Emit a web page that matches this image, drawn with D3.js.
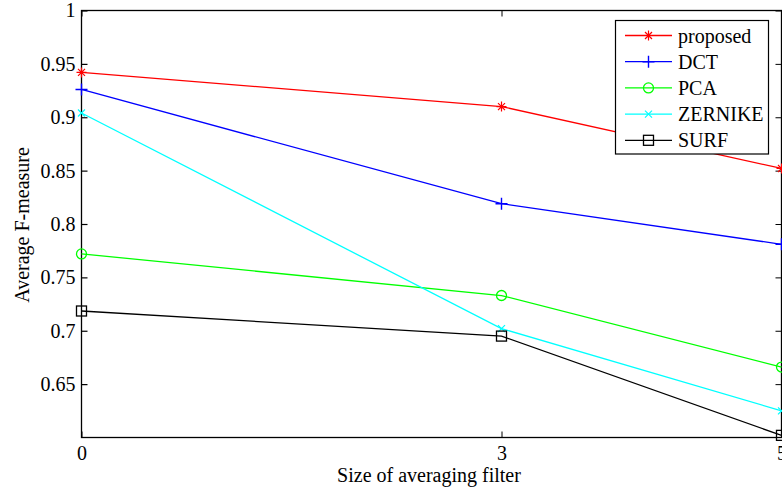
<!DOCTYPE html>
<html><head><meta charset="utf-8">
<script src="https://cdn.jsdelivr.net/npm/d3@7"></script>
<style>body{margin:0;background:#fff}svg{display:block}</style>
</head><body><svg id="c" width="782" height="491"></svg>
<script>
const xTicks = [0, 3, 5];
const yTicks = [0.65, 0.7, 0.75, 0.8, 0.85, 0.9, 0.95, 1];
const filterSizes = [0, 3, 5];
const proposed = [0.942, 0.910, 0.852];
const dct = [0.926, 0.819, 0.781];
const pca = [0.772, 0.733, 0.666];
const zernike = [0.904, 0.702, 0.625];
const surf = [0.7185, 0.695, 0.602];
const seriesNames = ["proposed", "DCT", "PCA", "ZERNIKE", "SURF"];
const seriesColors = ["#ff0000", "#0000ff", "#00ff00", "#00ffff", "#000000"];
const seriesMarkers = ["star", "plus", "circle", "x", "square"];
const seriesValues = [proposed, dct, pca, zernike, surf];

const FONT = "'Liberation Serif', 'DejaVu Serif', serif";
const svg = d3.select("#c");
const L = 81.5, R = 781.5, T = 10.5, B = 437.5;
const x = d3.scaleLinear().domain([0, 5]).range([L, R]);
const y = d3.scaleLinear().domain([0.6, 1]).range([B, T]);

svg.append("rect").attr("x", L).attr("y", T).attr("width", R - L).attr("height", B - T)
  .attr("fill", "none").attr("stroke", "#000").attr("stroke-width", 1.3);

const yAxis = d3.axisLeft(y).tickValues(yTicks).tickSize(-6).tickPadding(6).tickFormat(d => d3.format("")(d));
const gy = svg.append("g").attr("transform", `translate(${L},0)`).call(yAxis);
gy.select(".domain").remove();
gy.selectAll("line").attr("stroke-width", 1.2);
const gyr = svg.append("g").attr("transform", `translate(${R},0)`).call(d3.axisRight(y).tickValues(yTicks).tickSize(-6).tickFormat(""));
gyr.select(".domain").remove();

const xAxis = d3.axisBottom(x).tickValues(xTicks).tickSize(-6).tickPadding(8).tickFormat(d3.format("d"));
const gx = svg.append("g").attr("transform", `translate(0,${B})`).call(xAxis);
gx.select(".domain").remove();
const gxt = svg.append("g").attr("transform", `translate(0,${T})`).call(d3.axisTop(x).tickValues(xTicks).tickSize(-6).tickFormat(""));
gxt.select(".domain").remove();

svg.append("text").attr("x", 429).attr("y", 482).attr("text-anchor", "middle")
  .text("Size of averaging filter");
svg.append("text").attr("transform", `translate(29,225) rotate(-90)`).attr("text-anchor", "middle")
  .text("Average F-measure");

function marker(g, type, cx, cy, color) {
  const s = 5;
  if (type === "star") {
    g.append("path").attr("d", `M${cx-s},${cy}H${cx+s}M${cx},${cy-s}V${cy+s}M${cx-s*0.7},${cy-s*0.7}L${cx+s*0.7},${cy+s*0.7}M${cx-s*0.7},${cy+s*0.7}L${cx+s*0.7},${cy-s*0.7}`)
      .attr("stroke", color).attr("stroke-width", 1.2).attr("fill", "none");
  } else if (type === "plus") {
    g.append("path").attr("d", `M${cx-6},${cy}H${cx+6}M${cx},${cy-6}V${cy+6}`)
      .attr("stroke", color).attr("stroke-width", 1.4).attr("fill", "none");
  } else if (type === "circle") {
    g.append("circle").attr("cx", cx).attr("cy", cy).attr("r", 5)
      .attr("stroke", color).attr("stroke-width", 1.3).attr("fill", "none");
  } else if (type === "x") {
    const t = 3.5;
    g.append("path").attr("d", `M${cx-t},${cy-t}L${cx+t},${cy+t}M${cx-t},${cy+t}L${cx+t},${cy-t}`)
      .attr("stroke", color).attr("stroke-width", 1.2).attr("fill", "none");
  } else if (type === "square") {
    g.append("rect").attr("x", cx - 5).attr("y", cy - 5).attr("width", 10).attr("height", 10)
      .attr("stroke", color).attr("stroke-width", 1.3).attr("fill", "none");
  }
}

const line = d3.line().x((d, i) => x(filterSizes[i])).y(d => y(d));
const plot = svg.append("g");
seriesValues.forEach((vals, k) => {
  const g = plot.append("g");
  g.append("path").attr("d", line(vals)).attr("fill", "none").attr("stroke", seriesColors[k]).attr("stroke-width", 1.3);
  vals.forEach((v, i) => marker(g, seriesMarkers[k], x(filterSizes[i]), y(v), seriesColors[k]));
});

const lg = svg.append("g");
lg.append("rect").attr("x", 615.5).attr("y", 20.5).attr("width", 153).attr("height", 133.5)
  .attr("fill", "#fff").attr("stroke", "#000").attr("stroke-width", 1.2);
seriesNames.forEach((name, k) => {
  const cy = 35.5 + k * 26.2;
  lg.append("line").attr("x1", 625).attr("x2", 672).attr("y1", cy).attr("y2", cy)
    .attr("stroke", seriesColors[k]).attr("stroke-width", 1.3);
  marker(lg, seriesMarkers[k], 648.5, cy, seriesColors[k]);
  lg.append("text").attr("x", 678).attr("y", cy + 7).text(name);
});

svg.selectAll("text").attr("font-family", null).style("font-family", FONT).style("font-size", "20px").attr("fill", "#000");
svg.selectAll("g").attr("font-family", null);
</script></body></html>
